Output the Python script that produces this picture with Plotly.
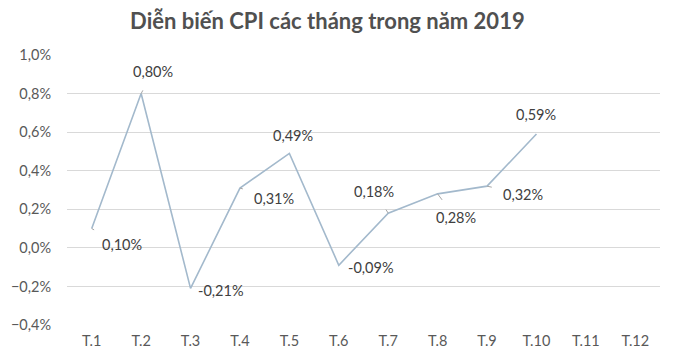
import plotly.graph_objects as go

months = ["T.1", "T.2", "T.3", "T.4", "T.5", "T.6", "T.7", "T.8", "T.9", "T.10", "T.11", "T.12"]
cpi = [0.10, 0.80, -0.21, 0.31, 0.49, -0.09, 0.18, 0.28, 0.32, 0.59]
# label offsets (pixels) for each data label
label_ax = [30, 12, 30, 34, 4, 32, -14, 18, 36, 0]
label_ay = [16, -22, 2, 10, -18, 2, -22, 24, 8, -20]

FONT = "Lato, Open Sans, sans-serif"

fig = go.Figure()
fig.add_trace(go.Scatter(
    x=months[:len(cpi)], y=cpi, mode="lines",
    line=dict(color="#a3b9cc", width=1.6),
    hoverinfo="skip",
))

for m, v, ax, ay in zip(months, cpi, label_ax, label_ay):
    fig.add_annotation(
        x=m, y=v, xref="x", yref="y",
        text=f"{v:.2f}%".replace(".", ","),
        showarrow=True, arrowhead=0, arrowwidth=1, arrowcolor="#a6a6a6",
        ax=ax, ay=ay, standoff=0, startstandoff=10,
        font=dict(size=14.5, color="#404040", family=FONT),
    )

fig.update_layout(
    width=675, height=351,
    margin=dict(l=67, r=15, t=55, b=26),
    paper_bgcolor="white", plot_bgcolor="white",
    separators=",.",
    showlegend=False,
    title=dict(text="<b>Diễn biến CPI các tháng trong năm 2019</b>", x=0.485, xanchor="center",
               y=0.94, yanchor="middle",
               font=dict(size=22, color="#505050", family=FONT)),
    font=dict(family=FONT, color="#595959", size=14.5),
)
fig.update_xaxes(
    type="category", categoryarray=months, categoryorder="array",
    range=[-0.5, 11.5], showgrid=False, showline=False, zeroline=False,
    ticks="outside", ticklen=3, tickcolor="white", automargin=False,
    tickfont=dict(size=14.5, color="#595959"),
)
fig.update_yaxes(
    range=[-0.4, 1.0], dtick=0.2, tickformat=".1f", ticksuffix="%",
    showgrid=True, gridcolor="#d9d9d9", gridwidth=1, zeroline=False, showline=False,
    ticks="outside", ticklen=12, tickcolor="white", automargin=False,
    tickfont=dict(size=14.5, color="#595959"),
)

fig.write_html("out.html")
